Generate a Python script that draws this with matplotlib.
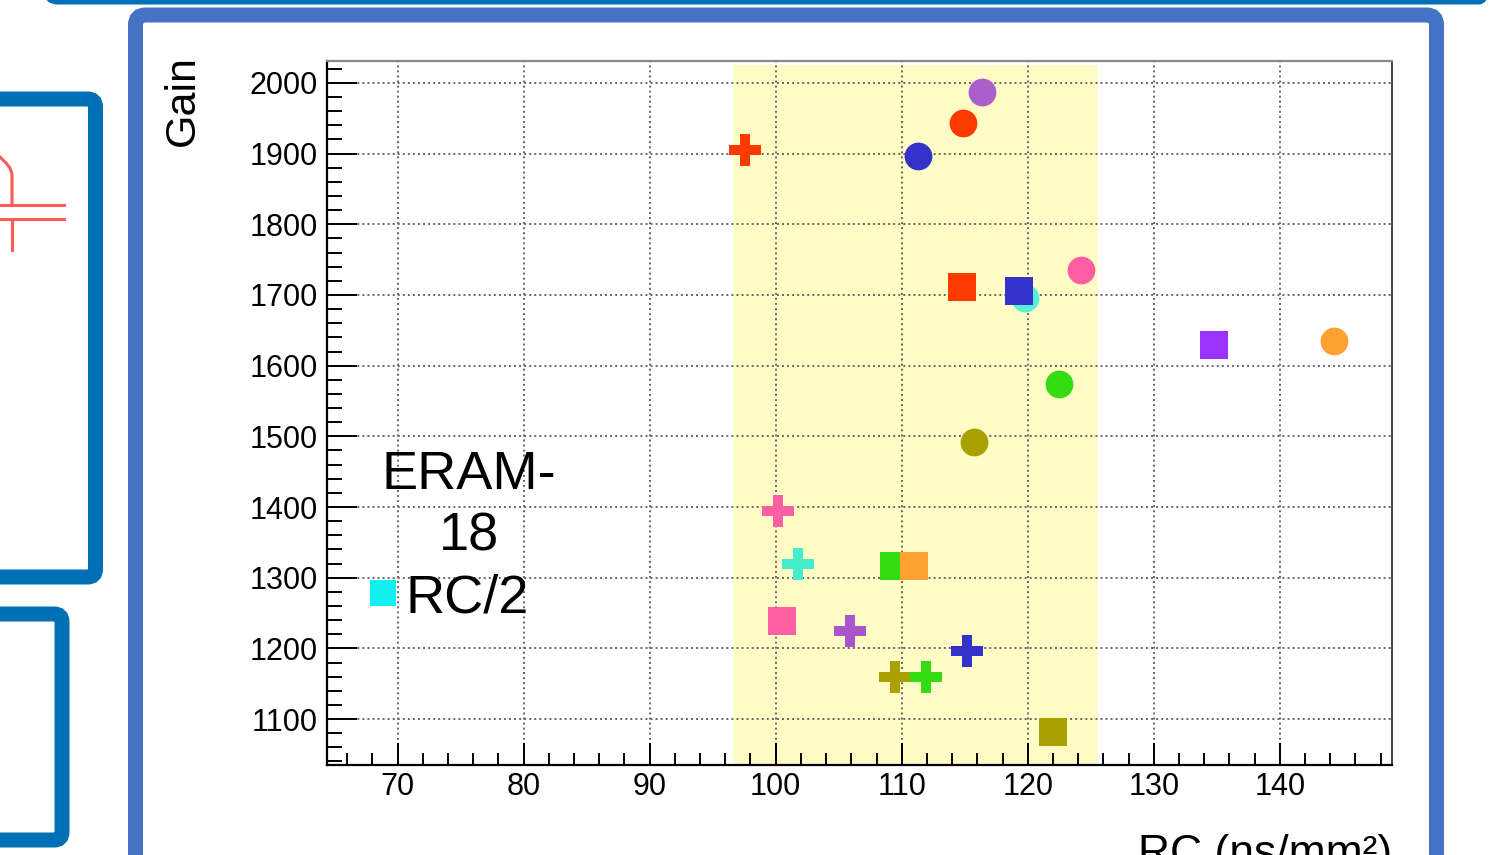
import matplotlib
matplotlib.use("Agg")
import matplotlib.pyplot as plt
from matplotlib.lines import Line2D
from matplotlib.patches import FancyBboxPatch
from matplotlib.ticker import MultipleLocator

plt.rcParams["font.family"] = ["Liberation Sans", "DejaVu Sans"]

# measurements: RC (ns/mm^2) vs gain, one entry per detector / setting
rc = [97.6, 116.4, 114.9, 111.3, 114.8, 119.8, 119.3, 124.2, 134.8, 144.3,
      122.5, 115.7, 100.2, 101.8, 109.4, 111.0, 100.5, 105.9, 115.2, 109.5,
      111.9, 122.0]
gain = [1905, 1987, 1943, 1897, 1711, 1695, 1705, 1735, 1629, 1635,
        1574, 1492, 1394, 1319, 1317, 1316, 1239, 1225, 1196, 1159,
        1159, 1081]
colors = ["#ff3a00", "#aa5fcc", "#ff3a00", "#3333cc", "#ff3a00", "#55f0d8",
          "#3333cc", "#ff5fa2", "#9a33ff", "#ffa033", "#33dd11", "#aaa000",
          "#ff5fa2", "#44eecc", "#33dd11", "#ffa033", "#ff5fa2", "#aa55cc",
          "#3333cc", "#aaa000", "#33dd11", "#aaa000"]
markers = ["P", "o", "o", "o", "s", "o", "s", "o", "s", "o",
           "o", "o", "P", "P", "s", "s", "s", "P", "P", "P",
           "P", "s"]

band_lo, band_hi = 96.6, 125.6
xlim = (64.4, 148.9)
ylim = (1035, 2031)

W, H = 1497, 855
fig = plt.figure(figsize=(W / 100, H / 100), dpi=100)

# slide decoration behind the plot
bg = fig.add_axes([0, 0, 1, 1], zorder=-1)
bg.set_xlim(0, W)
bg.set_ylim(H, 0)
bg.axis("off")
dark = "#0070b6"
bg.add_patch(FancyBboxPatch((46, -60), 1445, 62, boxstyle="round,pad=0,rounding_size=12",
                            fc="none", ec=dark, lw=3.6))
bg.add_patch(FancyBboxPatch((-100, 99), 195.5, 478, boxstyle="round,pad=0,rounding_size=8",
                            fc="none", ec=dark, lw=10.8))
bg.add_patch(FancyBboxPatch((-100, 614), 162, 226, boxstyle="round,pad=0,rounding_size=8",
                            fc="none", ec=dark, lw=10.8))
bg.add_patch(FancyBboxPatch((135.5, 15), 1301, 1000, boxstyle="round,pad=0,rounding_size=10",
                            fc="white", ec="#4472c4", lw=10.8))
red = "#ff5a5a"
bg.plot([0, 64], [205, 205], color=red, lw=2.2)
bg.plot([0, 64], [219, 219], color=red, lw=2.2)
bg.plot([0, 6, 10, 12, 12], [157, 163, 168, 174, 205], color=red, lw=2.2)
bg.plot([12, 12], [219, 250], color=red, lw=2.2)

ax = fig.add_axes([327 / W, 1 - 765 / H, (1392 - 327) / W, (765 - 61) / H])
ax.set_facecolor("white")
ax.axvspan(band_lo, band_hi, ymax=0.994, color="#fffcc5", lw=0, zorder=0.2)

for x, y, c, m in zip(rc, gain, colors, markers):
    ms = 23 if m == "P" else 20
    ax.plot([x], [y], ls="", marker=m, ms=ms, mfc=c, mec=c, mew=0, zorder=2)

ax.set_xlim(*xlim)
ax.set_ylim(*ylim)
ax.xaxis.set_major_locator(MultipleLocator(10))
ax.xaxis.set_minor_locator(MultipleLocator(2))
ax.yaxis.set_major_locator(MultipleLocator(100))
ax.yaxis.set_minor_locator(MultipleLocator(20))
ax.set_axisbelow(True)
ax.grid(True, which="major", color="#666666", ls=(0, (1, 1.6)), lw=1.4)

ax.tick_params(axis="x", which="major", direction="in", length=16, width=1.4,
               labelsize=22, pad=5, top=False)
ax.tick_params(axis="x", which="minor", direction="in", length=8.6, width=1.4, top=False)
ax.tick_params(axis="y", which="major", direction="in", length=21.5, width=1.4,
               labelsize=22, pad=6.5, right=False)
ax.tick_params(axis="y", which="minor", direction="in", length=10.8, width=1.4, right=False)

for side in ("left", "bottom"):
    ax.spines[side].set_linewidth(1.6)
    ax.spines[side].set_color("black")
ax.spines["top"].set_color("#888888")
ax.spines["top"].set_linewidth(1.6)
ax.spines["right"].set_color("#444444")
ax.spines["right"].set_linewidth(1.4)

fig.text(183 / W, 1 - 101 / H, "Gain", rotation=90, ha="center", va="center", fontsize=31)
fig.text(1392 / W, 1 - 866 / H, "RC (ns/mm²)", ha="right", va="baseline", fontsize=32)

# legend block
fig.text(469 / W, 1 - 506 / H, "ERAM-\n18", ha="center", va="center",
         fontsize=39, linespacing=1.3)
handle = Line2D([], [], ls="", marker="s", ms=19, mfc="#11f0f0", mec="#11f0f0", mew=0)
ax.legend([handle], ["RC/2"], loc="center left", bbox_to_anchor=(367 / W, 1 - 598 / H),
          bbox_transform=fig.transFigure, frameon=False, fontsize=39, borderpad=0,
          borderaxespad=0, handlelength=0.6, handletextpad=0.12)

fig.savefig("out.png", dpi=100)
